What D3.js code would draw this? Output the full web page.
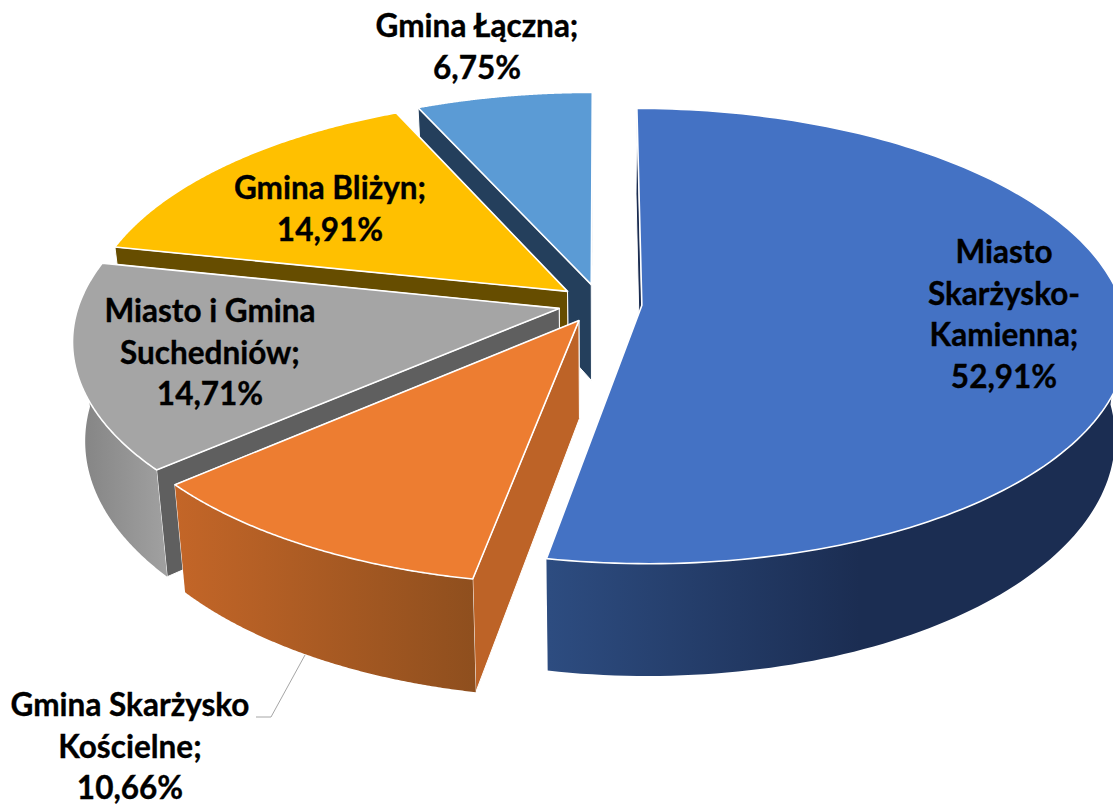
<!DOCTYPE html>
<html><head><meta charset="utf-8">
<script src="https://cdn.jsdelivr.net/npm/d3@7"></script>
<style>html,body{margin:0;padding:0;background:#fff}svg{display:block}</style>
</head><body><div id="c"></div>
<script>
const categories=["Miasto Skarżysko-Kamienna","Gmina Skarżysko Kościelne","Miasto i Gmina Suchedniów","Gmina Bliżyn","Gmina Łączna"];
const shares=[52.91,10.66,14.71,14.91,6.75];
const labelLines=[["Miasto","Skarżysko-","Kamienna;","52,91%"],["Gmina Skarżysko","Kościelne;","10,66%"],["Miasto i Gmina","Suchedniów;","14,71%"],["Gmina Bliżyn;","14,91%"],["Gmina Łączna;","6,75%"]];
const topColors=["#4472C4","#ED7D31","#A5A5A5","#FFC000","#5B9BD5"];
const wallColors=["#1B2D52","#BD6327","#5F5F5F","#664D00","#243F5C"];
const rimStops=[["#2D4C80","#1B2D52"],["#C46628","#8F4F1E"],["#848484","#A0A0A0"],["#997300","#7F6000"],["#2F5F8A","#243F5C"]];
const rimSpan=[[549,860],[172,472],[80,165],[120,400],[423,592]];
const labelCenter=[[1004,263],[130,716],[210,322],[330,199],[477,37]];
const lineStep=41.5;

const W=1113,H=805;
const cx=600,cy=303.5,Rx=480,Ry=223,persp=0.135,depth=97,shrink=0.976,explode=0.0875;
const sx=d3.scaleLinear([-1,1],[cx-Rx,cx+Rx]);
const sy=d3.scaleLinear([-1,1],[cy-Ry,cy+Ry]);
const svg=d3.select("#c").append("svg").attr("width",W).attr("height",H).attr("viewBox",[0,0,W,H]);
const defs=svg.append("defs");
const pie=d3.pie().sort(null).startAngle(0).endAngle(2*Math.PI);
const arcs=pie(shares);
const line=d3.line();

function proj(u,v,low){
  const w=1-persp*v;
  let X=sx(u/w),Y=sy(v/w);
  if(low){X=cx+(X-cx)*shrink;Y=Y+depth/w;}
  return [X,Y];
}
function arcPts(a,n){
  const mid=(a.startAngle+a.endAngle)/2;
  const ox=explode*Math.sin(mid),oy=-explode*Math.cos(mid);
  const angles=d3.range(n+1).map(i=>a.startAngle+(a.endAngle-a.startAngle)*i/n);
  const pts=angles.map(t=>[ox+Math.sin(t),oy-Math.cos(t)]);
  const front=angles.filter(t=>Math.cos(t)<0).map(t=>[ox+Math.sin(t),oy-Math.cos(t)]);
  return {pts,front,apex:[ox,oy]};
}
const order=[4,3,2,1,0];
order.forEach(i=>{
  const a=arcs[i];
  const {pts,front,apex}=arcPts(a,160);
  const g=svg.append("g").attr("class","slice").attr("data-name",categories[i]);
  const gid="rim"+i;
  const gr=defs.append("linearGradient").attr("id",gid).attr("gradientUnits","userSpaceOnUse")
    .attr("x1",rimSpan[i][0]).attr("x2",rimSpan[i][1]).attr("y1",0).attr("y2",0);
  gr.append("stop").attr("offset",0).attr("stop-color",rimStops[i][0]);
  gr.append("stop").attr("offset",1).attr("stop-color",rimStops[i][1]);
  const first=pts[0],last=pts[pts.length-1];
  const wall=(p)=>[proj(apex[0],apex[1],false),proj(p[0],p[1],false),proj(p[0],p[1],true),proj(apex[0],apex[1],true)];
  [last,first].forEach(p=>{
    g.append("path").attr("d",line(wall(p))+"Z").attr("fill",wallColors[i])
      .attr("stroke","#fff").attr("stroke-width",1);
  });
  if(front.length>1){
    const rim=front.map(p=>proj(p[0],p[1],false)).concat(front.slice().reverse().map(p=>proj(p[0],p[1],true)));
    g.append("path").attr("d",line(rim)+"Z").attr("fill",`url(#${gid})`);
  }
  const top=[proj(apex[0],apex[1],false)].concat(pts.map(p=>proj(p[0],p[1],false)));
  g.append("path").attr("d",line(top)+"Z").attr("fill",topColors[i])
    .attr("stroke","#fff").attr("stroke-width",1.6).attr("stroke-linejoin","round");
});
svg.append("path").attr("d",line([[305,655],[271,717],[256,717]]))
  .attr("fill","none").attr("stroke","#A6A6A6").attr("stroke-width",1);
labelLines.forEach((ls,i)=>{
  const t=svg.append("text").attr("text-anchor","middle")
    .attr("font-family","Lato, 'Open Sans', sans-serif").attr("font-weight",700)
    .attr("font-size",31.5).attr("fill","#000").attr("stroke","#000").attr("stroke-width",0.35);
  ls.forEach((s,j)=>t.append("tspan").attr("x",labelCenter[i][0]).attr("y",labelCenter[i][1]+j*lineStep).text(s));
});
</script></body></html>
